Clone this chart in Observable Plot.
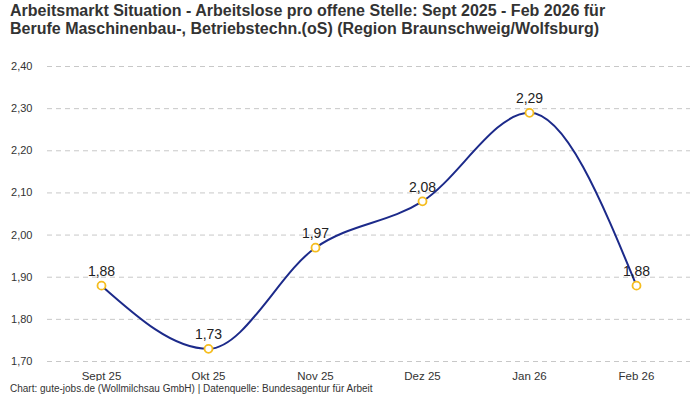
<!DOCTYPE html>
<html><head><meta charset="utf-8">
<script src="https://cdn.jsdelivr.net/npm/d3@7"></script>
<script src="https://cdn.jsdelivr.net/npm/@observablehq/plot@0.6"></script>
<style>
body{margin:0;background:#fff;width:700px;height:400px;overflow:hidden}
#title{font-family:"Liberation Sans Narrow",sans-serif;font-weight:bold;font-size:16px;line-height:18px;color:#333;padding:2px 0 0 10px;height:43px;box-sizing:border-box}
#cap{font-family:"Liberation Sans Narrow",sans-serif;font-size:10px;color:#333;padding-left:10px;margin-top:2px}
</style></head><body>
<div id="title">Arbeitsmarkt Situation - Arbeitslose pro offene Stelle: Sept 2025 - Feb 2026 für<br>Berufe Maschinenbau-, Betriebstechn.(oS) (Region Braunschweig/Wolfsburg)</div>
<div id="chart"></div>
<div id="cap">Chart: gute-jobs.de (Wollmilchsau GmbH) | Datenquelle: Bundesagentur für Arbeit</div>
<script>
const months = ["Sept 25","Okt 25","Nov 25","Dez 25","Jan 26","Feb 26"];
const values = [1.88,1.73,1.97,2.08,2.29,1.88];
const yTicks = [1.70,1.80,1.90,2.00,2.10,2.20,2.30,2.40];
const data = months.map((m,i)=>({m, v: values[i]}));
const fmt = v => v.toFixed(2).replace(".", ",");
const chart = Plot.plot({
  width:700, height:338,
  marginLeft:47, marginRight:10, marginTop:23, marginBottom:20,
  style:{fontFamily:"Liberation Sans, sans-serif", fontSize:"11px", color:"#333"},
  x:{type:"point", domain:months, padding:0.5, label:null},
  y:{domain:[1.70,2.40], label:null},
  marks:[
    Plot.ruleY(yTicks,{stroke:"#c8c8c8",strokeDasharray:"5,4",strokeWidth:1}),
    Plot.axisY({ticks:yTicks, tickFormat:fmt, tickSize:0, tickPadding:15, fontSize:11}),
    Plot.axisX({tickSize:0, tickPadding:10, fontFamily:"Liberation Sans Narrow, sans-serif", fontSize:11.5}),
    Plot.line(data,{x:"m",y:"v",curve:"monotone-x",stroke:"#1c2a8a",strokeWidth:2}),
    Plot.dot(data,{x:"m",y:"v",r:4,fill:"white",stroke:"#f5bd1f",strokeWidth:1.8}),
    Plot.text(data,{x:"m",y:"v",text:d=>fmt(d.v),dy:-14,fontSize:14,fill:"#222",fontWeight:500,fontFamily:"Liberation Sans, sans-serif"})
  ]
});
document.getElementById("chart").appendChild(chart);
</script>
</body></html>
